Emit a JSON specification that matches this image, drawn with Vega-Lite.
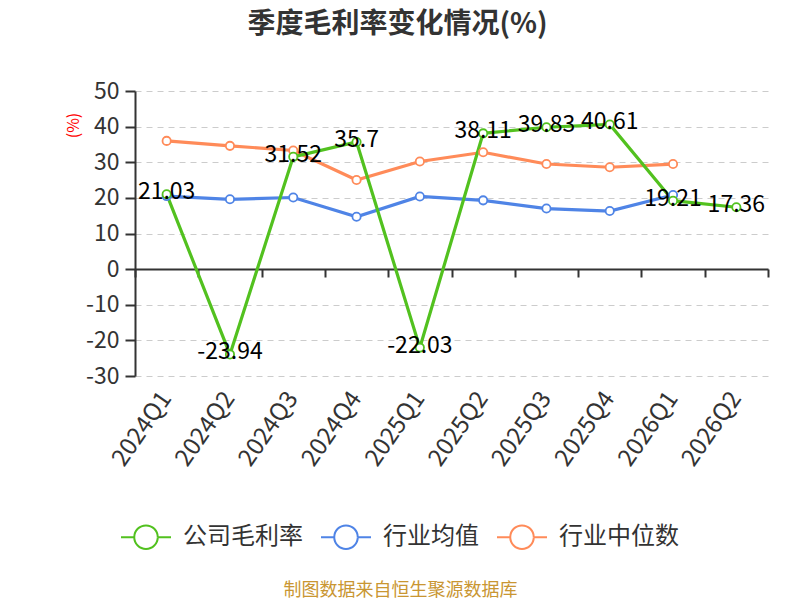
{
  "$schema": "https://vega.github.io/schema/vega-lite/v6.json",
  "width": 633,
  "height": 285,
  "autosize": "none",
  "padding": {"left": 135, "top": 91, "right": 32, "bottom": 224},
  "background": "white",
  "config": {
    "font": "Noto Sans CJK SC",
    "view": {"stroke": null},
    "axisY": {"labelOverlap": false, "labelFlush": false}
  },
  "title": {
    "text": "季度毛利率变化情况(%)",
    "anchor": "middle",
    "frame": "group",
    "dx": -54,
    "offset": 41,
    "fontSize": 28,
    "fontWeight": "bold",
    "color": "#333333",
    "font": "Noto Sans CJK SC"
  },
  "data": {
    "values": [
      {"quarter": "2024Q1", "series": "行业中位数", "value": 36.0},
      {"quarter": "2024Q2", "series": "行业中位数", "value": 34.6},
      {"quarter": "2024Q3", "series": "行业中位数", "value": 33.3},
      {"quarter": "2024Q4", "series": "行业中位数", "value": 25.0},
      {"quarter": "2025Q1", "series": "行业中位数", "value": 30.2},
      {"quarter": "2025Q2", "series": "行业中位数", "value": 32.8},
      {"quarter": "2025Q3", "series": "行业中位数", "value": 29.5},
      {"quarter": "2025Q4", "series": "行业中位数", "value": 28.6},
      {"quarter": "2026Q1", "series": "行业中位数", "value": 29.5},
      {"quarter": "2024Q1", "series": "行业均值", "value": 20.5},
      {"quarter": "2024Q2", "series": "行业均值", "value": 19.6},
      {"quarter": "2024Q3", "series": "行业均值", "value": 20.1},
      {"quarter": "2024Q4", "series": "行业均值", "value": 14.7},
      {"quarter": "2025Q1", "series": "行业均值", "value": 20.4},
      {"quarter": "2025Q2", "series": "行业均值", "value": 19.3},
      {"quarter": "2025Q3", "series": "行业均值", "value": 17.0},
      {"quarter": "2025Q4", "series": "行业均值", "value": 16.3},
      {"quarter": "2026Q1", "series": "行业均值", "value": 20.8},
      {"quarter": "2024Q1", "series": "公司毛利率", "value": 21.03},
      {"quarter": "2024Q2", "series": "公司毛利率", "value": -23.94},
      {"quarter": "2024Q3", "series": "公司毛利率", "value": 31.52},
      {"quarter": "2024Q4", "series": "公司毛利率", "value": 35.7},
      {"quarter": "2025Q1", "series": "公司毛利率", "value": -22.03},
      {"quarter": "2025Q2", "series": "公司毛利率", "value": 38.11},
      {"quarter": "2025Q3", "series": "公司毛利率", "value": 39.83},
      {"quarter": "2025Q4", "series": "公司毛利率", "value": 40.61},
      {"quarter": "2026Q1", "series": "公司毛利率", "value": 19.21},
      {"quarter": "2026Q2", "series": "公司毛利率", "value": 17.36}
    ]
  },
  "encoding": {
    "y": {
      "field": "value",
      "type": "quantitative",
      "scale": {"domain": [-30, 50], "nice": false},
      "axis": {
        "values": [-30, -20, -10, 0, 10, 20, 30, 40, 50],
        "labelExpr": "'' + datum.value",
        "labelOverlap": false,
        "title": "(%)",
        "titleColor": "red",
        "titleFontSize": 16,
        "titleFontWeight": "normal",
        "titleAngle": -90,
        "titleX": -62,
        "titleY": 34,
        "titleAlign": "center",
        "titleBaseline": "middle",
        "domain": true,
        "domainColor": "#333333",
        "domainWidth": 2,
        "ticks": true,
        "tickSize": 10,
        "tickColor": "#333333",
        "tickWidth": 2,
        "labelFontSize": 23,
        "labelColor": "#333333",
        "labelPadding": 6,
        "grid": true,
        "gridColor": "#cccccc",
        "gridDash": [6, 5],
        "gridWidth": 1
      }
    }
  },
  "layer": [
    {
      "mark": {"type": "line", "strokeWidth": 3.2},
      "encoding": {
        "x": {
          "field": "quarter",
          "type": "nominal",
          "sort": null,
          "scale": {"type": "band", "paddingInner": 0, "paddingOuter": 0,
            "domain": ["2024Q1","2024Q2","2024Q3","2024Q4","2025Q1","2025Q2","2025Q3","2025Q4","2026Q1","2026Q2"]},
          "axis": {
            "orient": "bottom",
            "title": "制图数据来自恒生聚源数据库",
            "titleX": 265,
            "titleY": 214,
            "titleAlign": "center",
            "titleBaseline": "middle",
            "titleFontSize": 18,
            "titleFontWeight": "normal",
            "titleColor": "#c99632",
            "domain": false,
            "ticks": false,
            "grid": false,
            "labelAngle": -55,
            "labelAlign": "right",
            "labelBaseline": "middle",
            "labelPadding": 18,
            "labelFontSize": 24,
            "labelColor": "#333333"
          }
        },
        "color": {
          "field": "series",
          "type": "nominal",
          "scale": {
            "domain": ["公司毛利率", "行业均值", "行业中位数"],
            "range": ["#52c11f", "#4f84e6", "#ff8b59"]
          },
          "legend": {
            "title": null,
            "orient": "none",
            "legendX": -15,
            "legendY": 420,
            "direction": "horizontal",
            "symbolType": "M-1,0L-0.47,0M0.47,0L1,0M0.47,0A0.47,0.47,0,1,1,-0.47,0A0.47,0.47,0,1,1,0.47,0",
            "symbolSize": 2500,
            "symbolStrokeWidth": 2,
            "symbolFillColor": "white",
            "labelFontSize": 24,
            "labelColor": "#333333",
            "labelOffset": 11,
            "columnPadding": 14
          }
        }
      }
    },
    {
      "mark": {"type": "point", "filled": true, "fill": "white", "size": 68, "strokeWidth": 1.8, "opacity": 1},
      "encoding": {
        "x": {
          "field": "quarter",
          "type": "nominal",
          "sort": null,
          "axis": {
            "orient": "bottom",
            "offset": -107,
            "title": null,
            "labels": false,
            "domain": true,
            "domainColor": "#333333",
            "domainWidth": 2,
            "ticks": true,
            "tickBand": "extent",
            "tickSize": 8,
            "tickColor": "#333333",
            "tickWidth": 2,
            "grid": false
          }
        },
        "stroke": {"field": "series", "type": "nominal", "legend": null,
          "scale": {"domain": ["公司毛利率", "行业均值", "行业中位数"], "range": ["#52c11f", "#4f84e6", "#ff8b59"]}}
      }
    },
    {
      "transform": [{"filter": "datum.series == '公司毛利率'"}],
      "mark": {"type": "text", "fontSize": 23, "color": "#000000", "dy": -2, "align": "center", "baseline": "middle"},
      "encoding": {
        "x": {"field": "quarter", "type": "nominal", "sort": null, "axis": null},
        "text": {"field": "value", "type": "nominal"}
      }
    }
  ],
  "resolve": {"axis": {"x": "independent"}}
}
